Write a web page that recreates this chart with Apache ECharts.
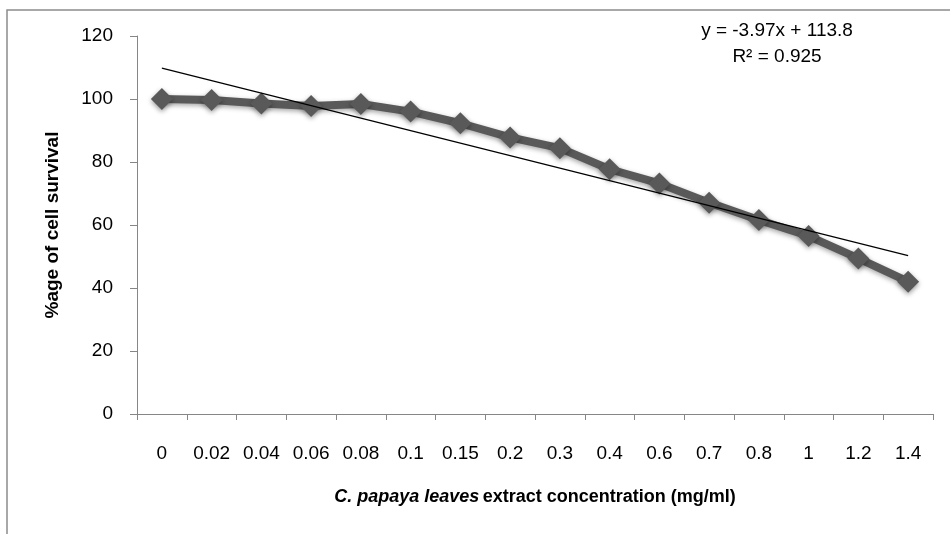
<!DOCTYPE html>
<html>
<head>
<meta charset="utf-8">
<script src="https://cdn.jsdelivr.net/npm/echarts@6/dist/echarts.min.js"></script>
<style>
html,body{margin:0;padding:0;background:#fff;}
#chart{width:950px;height:534px;}
</style>
</head>
<body>
<div id="chart"></div>
<script>
var categories = ['0','0.02','0.04','0.06','0.08','0.1','0.15','0.2','0.3','0.4','0.6','0.7','0.8','1','1.2','1.4'];
var survival = [100, 99.7, 98.6, 97.8, 98.4, 96.0, 92.3, 87.8, 84.4, 77.7, 73.2, 67.1, 61.6, 56.5, 49.4, 42.0];
var trendEnds = [109.8, 50.3];
var yTicks = [0, 20, 40, 60, 80, 100, 120];
var equationText = 'y = -3.97x + 113.8';
var r2Text = 'R² = 0.925';

var FONT = '"Liberation Sans", Arial, sans-serif';
var trendData = categories.map(function(c, i){
  if (i === 0) return trendEnds[0];
  if (i === categories.length - 1) return trendEnds[1];
  return null;
});

var chart = echarts.init(document.getElementById('chart'), null, {renderer:'canvas'});
chart.setOption({
  animation:false,
  backgroundColor:'#fff',
  textStyle:{fontFamily:FONT},
  grid:{left:137, right:17, top:36, bottom:120, containLabel:false},
  graphic:[
    {type:'rect', shape:{x:7, y:10, width:960, height:540}, style:{fill:'none', stroke:'#8c8c8c', lineWidth:1.5}, silent:true, z:-1},
    {type:'text', x:777, y:31, style:{text:equationText, font:'19px ' + FONT, fill:'#000', textAlign:'center', textVerticalAlign:'middle'}},
    {type:'text', x:777, y:57, style:{text:r2Text, font:'19px ' + FONT, fill:'#000', textAlign:'center', textVerticalAlign:'middle'}}
  ],
  xAxis:{
    type:'category',
    data:categories,
    boundaryGap:true,
    axisLine:{lineStyle:{color:'#868686', width:1}},
    axisTick:{show:true, alignWithLabel:false, length:6, lineStyle:{color:'#868686'}},
    axisLabel:{color:'#000', fontSize:19, margin:30, interval:0, fontFamily:FONT},
    name:'{i|C. papaya leaves} {b|extract concentration (mg/ml)}',
    nameLocation:'middle',
    nameGap:74,
    nameTextStyle:{
      rich:{
        i:{fontStyle:'italic', fontWeight:'bold', fontSize:18, color:'#000', fontFamily:FONT},
        b:{fontWeight:'bold', fontSize:18, color:'#000', fontFamily:FONT}
      }
    }
  },
  yAxis:{
    type:'value',
    min:0, max:120, interval:20,
    axisLine:{show:true, lineStyle:{color:'#868686', width:1}},
    axisTick:{show:true, length:7, lineStyle:{color:'#868686'}},
    splitLine:{show:false},
    axisLabel:{color:'#000', fontSize:19, margin:24, fontFamily:FONT,
      formatter:function(v){ return yTicks.indexOf(v) >= 0 ? String(v) : ''; }},
    name:'%age of cell survival',
    nameLocation:'middle',
    nameGap:75,
    nameTextStyle:{fontWeight:'bold', fontSize:19, color:'#000', fontFamily:FONT}
  },
  series:[
    {
      type:'line',
      data:survival,
      symbol:'diamond',
      symbolSize:22,
      lineStyle:{color:'#595959', width:8, shadowColor:'rgba(0,0,0,0.35)', shadowBlur:5, shadowOffsetY:2},
      itemStyle:{color:'#595959', shadowColor:'rgba(0,0,0,0.4)', shadowBlur:5, shadowOffsetY:2},
      z:2
    },
    {
      type:'line',
      data:trendData,
      connectNulls:true,
      symbol:'none',
      lineStyle:{color:'#000', width:1.2},
      z:3
    }
  ]
});
</script>
</body>
</html>
